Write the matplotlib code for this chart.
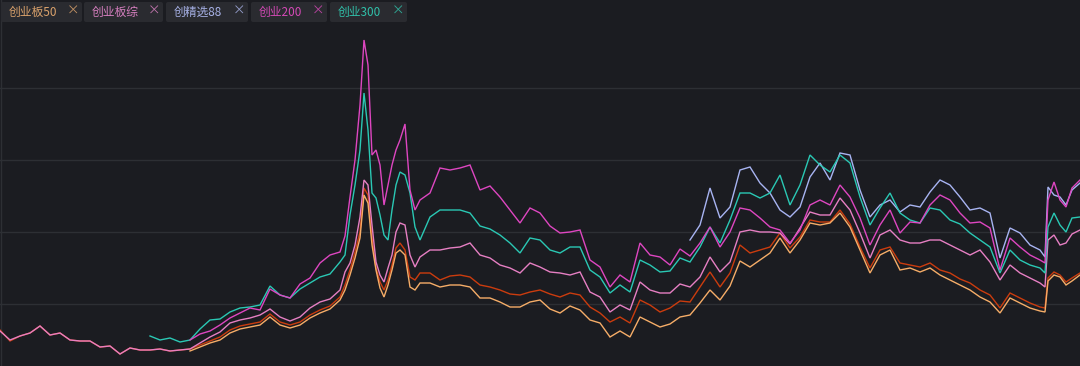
import numpy as np
import matplotlib
matplotlib.use("Agg")
import matplotlib.pyplot as plt
from matplotlib.patches import FancyBboxPatch

plt.rcParams['font.family'] = ['Noto Sans CJK SC', 'DejaVu Sans']

# trading-day index (denser around the 2015 spike and the final jump)
days = (list(range(0, 341, 10))
        + [345, 350, 355, 360, 364, 368, 372, 376, 380, 384, 388, 392, 396, 400, 405, 410, 415, 420]
        + list(range(430, 1041, 10))
        + [1045, 1048, 1054, 1060, 1066, 1072, 1080])

# index levels (relative units)
zong = [35, 26, 30, 33, 40, 31, 33, 26, 25, 25, 19, 20, 12, 18, 16, 16, 17, 15, 16, 17,
        23, 29, 34, 43, 46, 48, 51, 57, 49, 45, 49, 58, 64, 67, 76,
        94, 103, 121, 149, 186, 181, 141, 104, 91, 84, 98, 111, 134, 143, 141, 111, 99, 109,
        116, 116, 118, 119, 123, 111, 108, 101, 98, 93, 103, 99, 94, 93, 91, 94, 74, 69, 54, 61,
        56, 84, 76, 73, 73, 82, 79, 89, 109, 94, 104, 134, 136, 134, 134, 133, 122, 138, 154, 151,
        151, 168, 156, 133, 108, 131, 136, 126, 123, 123, 126, 126, 121, 116, 111, 116, 104, 86, 101, 93,
        88, 83,
        79, 126, 131, 121, 123, 132, 136]

zhi = [36, 25, 30, 33, 40, 31, 33, 26, 25, 25, 19, 20, 12, 18, 16, 16, 17, 15, 16, 17,
       21, 25, 29, 36, 40, 42, 44, 52, 44, 41, 44, 51, 56, 60, 69,
       81, 96, 114, 134, 178, 171, 128, 98, 84, 76, 86, 101, 118, 123, 116, 89, 86, 93,
       93, 86, 90, 91, 89, 81, 79, 76, 72, 71, 74, 76, 72, 69, 73, 71, 59, 53, 44, 49,
       43, 66, 61, 54, 58, 65, 64, 79, 94, 79, 93, 121, 113, 116, 119, 133, 118, 129, 146, 144,
       144, 156, 142, 119, 98, 116, 119, 103, 101, 99, 103, 96, 93, 87, 83, 76, 71, 58, 73, 68,
       63, 59,
       58, 88, 94, 91, 84, 88, 93]

b50 = [15, 19, 23, 26, 33, 37, 39, 41, 49, 41, 38, 41, 48, 53, 57, 66,
       76, 91, 108, 128, 171, 163, 121, 96, 78, 69, 81, 96, 113, 116, 111, 79, 76, 83,
       83, 79, 81, 81, 79, 68, 68, 64, 59, 59, 64, 66, 57, 53, 60, 56, 46, 43, 29, 35,
       29, 49, 44, 39, 42, 49, 51, 63, 76, 66, 80, 105, 99, 106, 113, 128, 113, 126, 143, 141,
       143, 153, 139, 116, 93, 111, 116, 96, 98, 94, 98, 91, 86, 81, 76, 69, 64, 53, 68, 63,
       58, 55,
       54, 85, 91, 89, 81, 85, 91]

c300 = [30, 26, 28, 24, 26, 37, 46, 47, 54, 58, 59, 61, 80, 71, 68, 77, 83, 89, 92, 104,
        111, 151, 181, 216, 273, 236, 173, 168, 151, 131, 126, 156, 181, 194, 191, 173, 139, 126,
        149, 156, 156, 156, 153, 140, 137, 131, 123, 113, 128, 126, 116, 113, 119, 119, 96, 89, 73, 81,
        74, 106, 101, 94, 95, 108, 104, 119, 139, 123, 146, 173, 173, 168, 173, 191, 161, 181, 211, 201,
        194, 211, 203, 169, 141, 158, 173, 153, 146, 143, 158, 156, 146, 142, 133, 126, 119, 93, 116, 106,
        101, 98,
        93, 139, 153, 141, 134, 148, 149]

c200 = [26, 32, 35, 41, 48, 53, 58, 56, 77, 71, 68, 82, 88, 103, 111, 114,
        130, 169, 206, 261, 326, 301, 211, 216, 201, 161, 181, 201, 216, 226, 242, 176, 156, 166,
        173, 198, 196, 198, 201, 176, 180, 169, 156, 143, 158, 153, 140, 133, 134, 136, 106, 99, 79, 91,
        84, 123, 111, 109, 101, 117, 110, 123, 139, 119, 134, 158, 156, 148, 139, 136, 123, 136, 161, 166,
        161, 181, 169, 148, 121, 141, 156, 133, 144, 143, 161, 171, 166, 153, 143, 144, 138, 96, 128, 119,
        111, 106,
        103, 166, 184, 166, 159, 178, 186]

jx88 = [126, 141, 178, 148, 159, 196, 199, 183, 173, 156, 149, 159, 189, 203, 186, 213, 211, 176,
        149, 161, 166, 154, 161, 159, 174, 186, 181, 169, 156, 158, 153, 108, 138, 133, 121, 116,
        109, 179, 171, 169, 161, 176, 183]

# (values, first day, colour) in drawing order
series = [
    (zhi, 0, '#cb3c0e'),
    (b50, 190, '#f6ad68'),
    (zong, 0, '#e67fc3'),
    (jx88, 690, '#a8b4f2'),
    (c300, 150, '#2ac8b4'),
    (c200, 190, '#de46c1'),
]

bg = '#1b1c21'
fig = plt.figure(figsize=(10.8, 3.66), dpi=100, facecolor=bg)
ax = fig.add_axes([0, 0, 1, 1])
ax.set_facecolor(bg)
ax.set_xlim(0, 1080)
ax.set_ylim(0, 366)
for s in ax.spines.values():
    s.set_visible(False)
ax.set_xticks([])
ax.set_yticks([62, 134, 206, 278])
ax.tick_params(left=False, labelleft=False)
ax.grid(axis='y', color='#2d2f34', lw=1.0)
ax.axvline(0.5, color='#2d2f34', lw=1.0)

for vals, start, col in series:
    i0 = days.index(start)
    ax.plot(days[i0:], vals, color=col, lw=1.0, solid_joinstyle='miter')

# legend tabs at the top left
tabs = [('创业板50', '#dca36c', 1, 82),
        ('创业板综', '#d880c1', 84, 163),
        ('创精选88', '#a7b1e6', 166, 248),
        ('创业200', '#d449b6', 251, 327),
        ('创业300', '#30c1aa', 330, 407)]
for lab, col, x0, x1 in tabs:
    box = FancyBboxPatch((x0, 344), x1 - x0, 20, boxstyle='round,pad=0,rounding_size=2',
                         fc='#2a2b30', ec='none', zorder=5)
    ax.add_patch(box)
    ax.text(x0 + 8, 354, lab, color=col, fontsize=8.5, va='center', ha='left', zorder=6)
    ax.text(x1 - 9, 354.5, '×', color=col, fontsize=9, va='center', ha='center', zorder=6, alpha=0.85)

fig.savefig('out.png', dpi=100, facecolor=bg)
